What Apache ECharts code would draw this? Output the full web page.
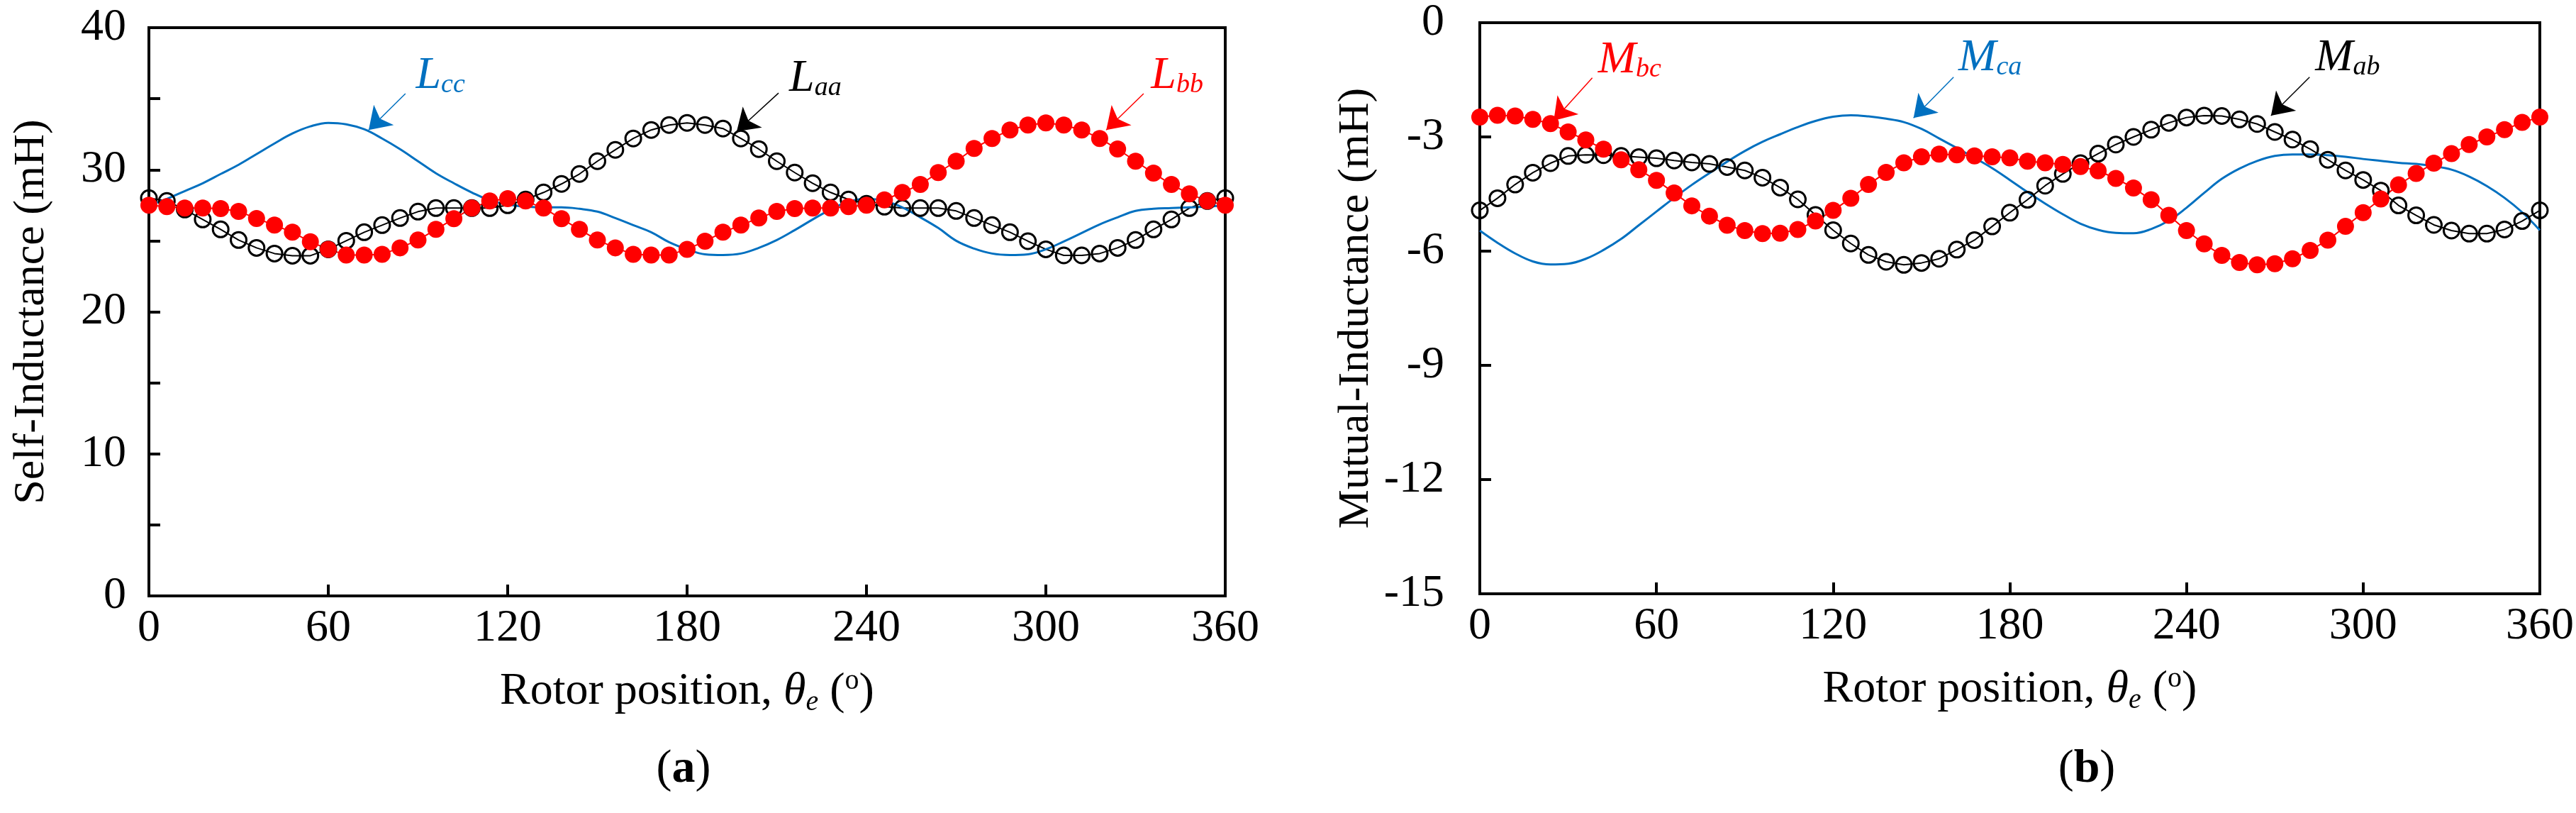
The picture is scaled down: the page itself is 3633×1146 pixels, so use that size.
<!DOCTYPE html>
<html>
<head>
<meta charset="utf-8">
<script src="https://cdn.jsdelivr.net/npm/echarts@6/dist/echarts.min.js"></script>
<style>
  html, body { margin: 0; padding: 0; background: #fff; }
  #main { width: 3633px; height: 1146px; }
</style>
</head>
<body>
<div id="main"></div>
<script>
    // rotor position (electrical degrees), one sample every 6 deg
    var theta = [0, 6, 12, 18, 24, 30, 36, 42, 48, 54, 60, 66, 72, 78, 84, 90, 96, 102, 108, 114, 120,
        126, 132, 138, 144, 150, 156, 162, 168, 174, 180, 186, 192, 198, 204, 210, 216, 222, 228, 234, 240,
        246, 252, 258, 264, 270, 276, 282, 288, 294, 300, 306, 312, 318, 324, 330, 336, 342, 348, 354, 360];

    // (a) self-inductance, mH
    var laa = [28.0, 27.8, 27.2, 26.5, 25.8, 25.05, 24.5, 24.1, 23.95, 23.95, 24.4, 25.0, 25.6, 26.1, 26.6, 27.05, 27.3, 27.3, 27.3, 27.3, 27.5,
        27.9, 28.4, 29.0, 29.7, 30.6, 31.4, 32.2, 32.8, 33.15, 33.3, 33.15, 32.9, 32.2, 31.45, 30.6, 29.8, 29.05, 28.4, 27.9, 27.6,
        27.4, 27.3, 27.3, 27.3, 27.1, 26.6, 26.1, 25.6, 24.97, 24.4, 23.97, 23.97, 24.1, 24.5, 25.05, 25.8, 26.5, 27.3, 27.8, 28.0];
    var lbb = [27.5, 27.4, 27.3, 27.3, 27.27, 27.07, 26.57, 26.1, 25.6, 24.93, 24.4, 24.0, 24.0, 24.05, 24.5, 25.05, 25.8, 26.55, 27.3, 27.8, 27.96,
        27.8, 27.3, 26.55, 25.8, 25.05, 24.5, 24.05, 24.0, 24.0, 24.4, 24.97, 25.6, 26.1, 26.6, 27.07, 27.27, 27.3, 27.3, 27.4, 27.5,
        27.88, 28.4, 28.96, 29.8, 30.6, 31.5, 32.2, 32.8, 33.15, 33.3, 33.15, 32.8, 32.2, 31.46, 30.6, 29.76, 28.96, 28.3, 27.8, 27.5];
    var lcc = [27.5, 27.95, 28.5, 29.05, 29.7, 30.35, 31.1, 31.85, 32.55, 33.05, 33.3, 33.2, 32.85, 32.2, 31.45, 30.6, 29.75, 29.05, 28.4, 27.85, 27.55,
        27.4, 27.35, 27.35, 27.25, 27.05, 26.6, 26.1, 25.6, 24.9, 24.4, 24.05, 24.0, 24.1, 24.5, 25.05, 25.75, 26.5, 27.2, 27.75, 27.95,
        27.8, 27.35, 26.65, 25.9, 25.0, 24.45, 24.1, 24.0, 24.05, 24.4, 24.95, 25.55, 26.15, 26.65, 27.1, 27.25, 27.3, 27.35, 27.4, 27.5];

    // (b) mutual-inductance, mH
    var mab = [-4.93, -4.61, -4.25, -3.94, -3.69, -3.5, -3.47, -3.48, -3.5, -3.53, -3.56, -3.62, -3.67, -3.71, -3.79, -3.88, -4.07, -4.33, -4.64, -5.05, -5.45,
        -5.8, -6.1, -6.28, -6.36, -6.31, -6.2, -5.96, -5.71, -5.35, -4.99, -4.65, -4.28, -3.97, -3.69, -3.44, -3.2, -3.0, -2.81, -2.63, -2.49,
        -2.44, -2.45, -2.54, -2.66, -2.87, -3.07, -3.32, -3.6, -3.88, -4.13, -4.41, -4.8, -5.06, -5.31, -5.46, -5.54, -5.54, -5.43, -5.21, -4.93];
    var mbc = [-2.48, -2.43, -2.45, -2.54, -2.65, -2.87, -3.08, -3.32, -3.6, -3.86, -4.14, -4.47, -4.81, -5.08, -5.32, -5.46, -5.54, -5.53, -5.43, -5.21, -4.93,
        -4.61, -4.25, -3.93, -3.68, -3.52, -3.45, -3.47, -3.5, -3.52, -3.55, -3.64, -3.68, -3.72, -3.78, -3.89, -4.09, -4.34, -4.65, -5.06, -5.46,
        -5.81, -6.11, -6.3, -6.36, -6.33, -6.2, -5.98, -5.71, -5.35, -4.99, -4.63, -4.26, -3.96, -3.69, -3.44, -3.2, -3.0, -2.81, -2.62, -2.48];
    var mca = [-5.46, -5.78, -6.06, -6.27, -6.35, -6.33, -6.2, -5.97, -5.68, -5.32, -4.96, -4.6, -4.26, -3.95, -3.65, -3.37, -3.13, -2.93, -2.74, -2.58, -2.47,
        -2.43, -2.46, -2.52, -2.61, -2.79, -3.04, -3.29, -3.55, -3.82, -4.13, -4.45, -4.75, -5.03, -5.28, -5.44, -5.52, -5.53, -5.42, -5.2, -4.86,
        -4.47, -4.1, -3.83, -3.63, -3.5, -3.46, -3.46, -3.48, -3.52, -3.58, -3.63, -3.68, -3.71, -3.77, -3.86, -4.04, -4.29, -4.6, -4.98, -5.45];

    var xTicks = [0, 60, 120, 180, 240, 300, 360];

    var FONT = "'Liberation Serif', 'Times New Roman', serif";
    var BLUE = '#0070C0', RED = '#FF0000', BLACK = '#000000';

    function pairs(ys) {
        return theta.map(function (t, i) { return [t, ys[i]]; });
    }

    // italic "L"/"M" with italic subscript, placed in data coords, plus an arrow
    function note(color, main, sub, at, from, to) {
        return {
            markPoint: {
                silent: true,
                animation: false,
                symbol: 'circle',
                symbolSize: 1,
                itemStyle: { color: 'rgba(0,0,0,0)' },
                label: {
                    show: true,
                    position: 'inside',
                    formatter: '{m|' + main + '}{s|' + sub + '}',
                    rich: {
                        m: { fontFamily: FONT, fontStyle: 'italic', fontSize: 64, lineHeight: 64, color: color },
                        s: { fontFamily: FONT, fontStyle: 'italic', fontSize: 38, lineHeight: 30, color: color, verticalAlign: 'bottom' }
                    }
                },
                data: [{ coord: at }]
            },
            markLine: {
                silent: true,
                animation: false,
                symbol: ['none', 'arrow'],
                symbolSize: 30,
                label: { show: false },
                lineStyle: { color: color, width: 1.5, type: 'solid' },
                data: [[{ coord: from }, { coord: to }]]
            }
        };
    }

    function markerSeries(name, idx, ys, filled, color, extra) {
        var s = {
            name: name,
            type: 'line',
            xAxisIndex: idx,
            yAxisIndex: idx,
            data: pairs(ys),
            symbol: 'circle',
            symbolSize: filled ? 24 : 22,
            showAllSymbol: true,
            clip: false,
            lineStyle: { color: color, width: 2 },
            itemStyle: filled
                ? { color: color }
                : { color: 'rgba(0,0,0,0)', borderColor: color, borderWidth: 3 },
            animation: false
        };
        return Object.assign(s, extra);
    }

    function curveSeries(name, idx, ys, color, extra) {
        var s = {
            name: name,
            type: 'line',
            xAxisIndex: idx,
            yAxisIndex: idx,
            data: pairs(ys),
            smooth: 0.4,
            showSymbol: false,
            clip: false,
            lineStyle: { color: color, width: 3 },
            itemStyle: { color: color },
            animation: false
        };
        return Object.assign(s, extra);
    }

    var axisBase = {
        axisLine: { show: true, onZero: false, lineStyle: { color: BLACK, width: 4 } },
        axisTick: { show: true, inside: true, length: 16, lineStyle: { color: BLACK, width: 4 } },
        splitLine: { show: false },
        nameLocation: 'middle'
    };

    var xName = '{t|Rotor position, }{th|θ}{e|e}{t| (}{o|o}{t|)}';
    var xNameStyle = {
        rich: {
            t: { fontFamily: FONT, fontSize: 64, lineHeight: 70, color: BLACK },
            th: { fontFamily: FONT, fontSize: 64, lineHeight: 70, fontStyle: 'italic', color: BLACK },
            e: { fontFamily: FONT, fontSize: 40, lineHeight: 34, fontStyle: 'italic', color: BLACK, verticalAlign: 'bottom' },
            o: { fontFamily: FONT, fontSize: 40, lineHeight: 40, color: BLACK, verticalAlign: 'top' }
        }
    };

    function xAxisFor(idx) {
        return Object.assign({}, axisBase, {
            gridIndex: idx,
            type: 'value',
            min: xTicks[0],
            max: xTicks[xTicks.length - 1],
            interval: 60,
            axisLabel: { fontFamily: FONT, fontSize: 64, color: BLACK, margin: 14 },
            name: xName,
            nameGap: 100,
            nameTextStyle: xNameStyle
        });
    }

    var myChart = echarts.init(document.getElementById('main'), null, { renderer: 'canvas' });
    var option = {
        backgroundColor: '#ffffff',
        animation: false,
        grid: [
            { left: 210, top: 39, width: 1518, height: 801, show: true, borderColor: BLACK, borderWidth: 4, backgroundColor: 'rgba(0,0,0,0)' },
            { left: 2087, top: 32, width: 1506, height: 805, show: true, borderColor: BLACK, borderWidth: 4, backgroundColor: 'rgba(0,0,0,0)' }
        ],
        xAxis: [xAxisFor(0), xAxisFor(1)],
        yAxis: [
            Object.assign({}, axisBase, {
                gridIndex: 0,
                type: 'value',
                min: 0,
                max: 40,
                interval: 5,
                axisLabel: {
                    fontFamily: FONT, fontSize: 64, color: BLACK, margin: 32,
                    formatter: function (v) { return v % 10 === 0 ? String(v) : ''; }
                },
                name: 'Self-Inductance (mH)',
                nameGap: 134,
                nameTextStyle: { fontFamily: FONT, fontSize: 62, color: BLACK }
            }),
            Object.assign({}, axisBase, {
                gridIndex: 1,
                type: 'value',
                min: -15,
                max: 0,
                interval: 3,
                axisLabel: { fontFamily: FONT, fontSize: 64, color: BLACK, margin: 50 },
                name: 'Mutual-Inductance (mH)',
                nameGap: 143,
                nameTextStyle: { fontFamily: FONT, fontSize: 62, color: BLACK }
            })
        ],
        graphic: [
            {
                type: 'text', x: 964, y: 1085, silent: true,
                style: {
                    text: '{p|(}{b|a}{p|)}', align: 'center', verticalAlign: 'middle',
                    rich: {
                        p: { fontFamily: FONT, fontSize: 66, fill: BLACK },
                        b: { fontFamily: FONT, fontSize: 66, fontWeight: 'bold', fill: BLACK }
                    }
                }
            },
            {
                type: 'text', x: 2943, y: 1085, silent: true,
                style: {
                    text: '{p|(}{b|b}{p|)}', align: 'center', verticalAlign: 'middle',
                    rich: {
                        p: { fontFamily: FONT, fontSize: 66, fill: BLACK },
                        b: { fontFamily: FONT, fontSize: 66, fontWeight: 'bold', fill: BLACK }
                    }
                }
            }
        ],
        series: [
            markerSeries('Laa', 0, laa, false, BLACK,
                note(BLACK, 'L', 'aa', [222.9, 36.4], [210.6, 35.4], [196.6, 32.7])),
            markerSeries('Lbb', 0, lbb, true, RED,
                note(RED, 'L', 'bb', [343.9, 36.6], [332.7, 35.36], [320.2, 32.8])),
            curveSeries('Lcc', 0, lcc, BLUE,
                note(BLUE, 'L', 'cc', [97.5, 36.6], [85.8, 35.36], [73.5, 32.8])),
            markerSeries('Mab', 1, mab, false, BLACK,
                note(BLACK, 'M', 'ab', [294.7, -0.93], [281.8, -1.43], [268.7, -2.44])),
            markerSeries('Mbc', 1, mbc, true, RED,
                note(RED, 'M', 'bc', [50.9, -0.99], [38.2, -1.45], [25.1, -2.57])),
            curveSeries('Mca', 1, mca, BLUE,
                note(BLUE, 'M', 'ca', [173.3, -0.93], [160.9, -1.43], [147.3, -2.5]))
        ]
    };
    myChart.setOption(option);

    window.addEventListener('resize', function () {
        if (myChart != null && myChart != undefined) {
            myChart.resize();
        }
    });
</script>
</body>
</html>
